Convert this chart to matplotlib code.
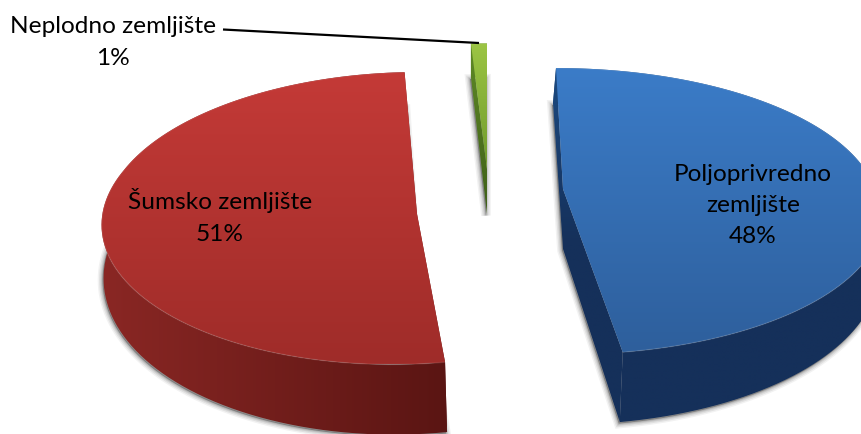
import numpy as np
import matplotlib

matplotlib.use("Agg")
import matplotlib.pyplot as plt
from matplotlib.colors import LinearSegmentedColormap
from matplotlib.patches import Polygon

# data, clockwise from 12 o'clock
categories = ["Poljoprivredno\nzemljište", "Šumsko zemljište", "Neplodno zemljište"]
values = [48, 51, 1]

# look of each slice: ellipse centre, radii, perspective lean, wall shift, inner tips, colours
slice_style = [
    dict(ax=556, ay=165, rx=305, ry=127.6, lean=10, back=0, dx=-3, depth=47,
         tip=(563, 190), btip=(563, 250),
         top=("#3b7cc8", "#2e5f9c"), wall=("#1c4a80", "#15305a", "#15305a")),
    dict(ax=408, ay=171, rx=284, ry=130.3, lean=-16, back=10, dx=2, depth=47,
         tip=(417, 215), btip=(417, 262),
         top=("#c43a37", "#9f2c29"), wall=("#8a2724", "#5a1513")),
    dict(ax=487, ay=170, rx=340, ry=167, lean=0, back=0, dx=0, depth=45,
         tip=(487, 170), btip=(487, 215),
         top=("#9cc544", "#6f9a2c"), wall=("#5f8a26", "#3f5f18")),
]
label_pos = [(753, 205.5), (220, 216.5), (113, 42.5)]
leader = [(223, 30.5), (479, 44)]
persp = 0.33

fig = plt.figure(figsize=(8.61, 4.35), dpi=100)
ax = fig.add_axes([0, 0, 1, 1])
ax.axis("off")
z = [1]


def next_z():
    z[0] += 1
    return z[0]


def rim(st, theta):
    u, v = np.sin(theta), np.cos(theta)
    w = 1 + persp * v
    x = st["ax"] + st["rx"] * u / w + st["lean"] * np.maximum(0, -v) + st["back"] * np.maximum(0, v)
    y = st["ay"] - st["ry"] * v / w
    return x, y, w


def gradient_fill(pts, colors, vertical=True, yrange=None):
    # polygon filled with a linear gradient through a clipped image
    pts = np.asarray(pts)
    cmap = LinearSegmentedColormap.from_list("g", colors)
    grad = np.linspace(0, 1, 256).reshape(-1, 1) if vertical else np.linspace(0, 1, 256).reshape(1, -1)
    y0, y1 = yrange if yrange else (pts[:, 1].min(), pts[:, 1].max())
    ext = [pts[:, 0].min() - 1, pts[:, 0].max() + 1, y1, y0]
    patch = Polygon(pts, closed=True, fc="none", ec="none", transform=ax.transData)
    ax.add_patch(patch)
    im = ax.imshow(grad, cmap=cmap, extent=ext, aspect="auto", origin="upper", interpolation="bilinear",
                   zorder=next_z())
    im.set_clip_path(patch)


def soft_shadow(pts):
    # blurred grey edge, stacked wide strokes
    for lw, a in zip([7, 5, 3, 1.5], [0.05, 0.07, 0.09, 0.11]):
        ax.add_patch(Polygon(np.asarray(pts) + [-1, 1.5], closed=True, fc=(0, 0, 0, a), ec=(0, 0, 0, a), lw=lw,
                             zorder=next_z()))


# slice angles come from the values
fracs = np.array(values) / sum(values) * 2 * np.pi
starts = np.concatenate([[0], np.cumsum(fracs)[:-1]])

for i in [2, 1, 0]:
    st = slice_style[i]
    theta = np.linspace(starts[i], starts[i] + fracs[i], 120)
    x, y, w = rim(st, theta)
    bx, by = x + st["dx"], y + st["depth"] / w
    tip, btip = st["tip"], st["btip"]

    top = np.vstack([[tip], np.column_stack([x, y])])
    outer = np.vstack([np.column_stack([x, y]), np.column_stack([bx, by])[::-1]])
    wall_a = [tip, (x[0], y[0]), (bx[0], by[0]), btip]
    wall_b = [tip, (x[-1], y[-1]), (bx[-1], by[-1]), btip]
    yr = (y.min(), max(by.max(), btip[1]))

    soft_shadow(np.vstack([np.column_stack([bx, by]), [btip]]))
    gradient_fill(wall_a, st["wall"], yrange=yr)
    gradient_fill(wall_b, st["wall"], yrange=yr)
    gradient_fill(outer, st["wall"], vertical=(i != 1), yrange=yr)
    gradient_fill(top, st["top"])
    ax.plot(x, y, color="white", alpha=0.1, lw=1, zorder=next_z())

lx, ly = zip(*leader)
ax.plot(lx, ly, color="black", lw=1.6, solid_capstyle="butt", zorder=next_z())

for name, val, (tx, ty) in zip(categories, values, label_pos):
    ax.text(tx, ty, f"{name}\n{val}%", ha="center", va="center", fontsize=17.6, family="Lato",
            color="black", linespacing=1.6, zorder=next_z())

ax.set_xlim(0, 861)
ax.set_ylim(435, 0)
fig.savefig("out.png", dpi=100)
